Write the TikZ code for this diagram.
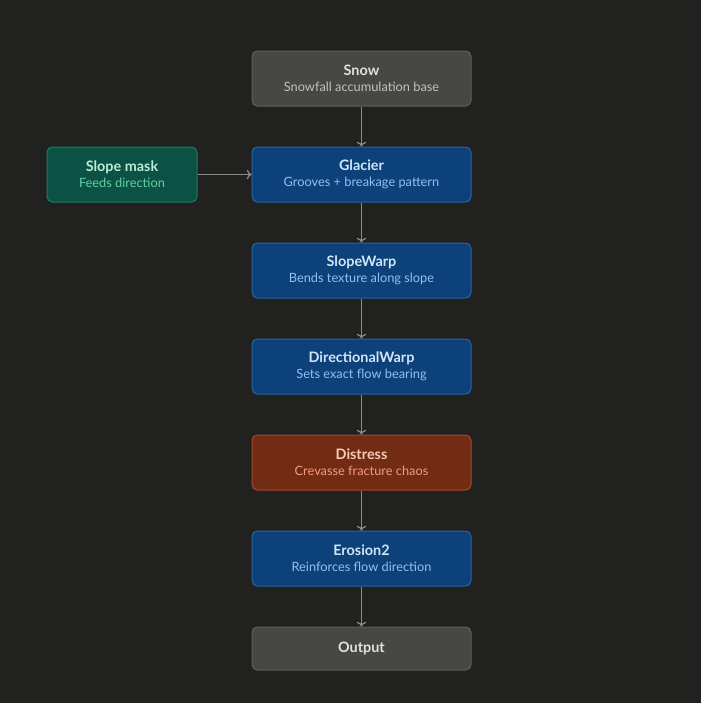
\documentclass[tikz,border=0pt]{standalone}
\usepackage{fontspec}
\setmainfont{Lato}
\usetikzlibrary{positioning,arrows.meta}

\definecolor{bgdark}{HTML}{212120}
\definecolor{grayfill}{HTML}{474743}
\definecolor{grayline}{HTML}{5E5E5A}
\definecolor{graytitle}{HTML}{E2E1DC}
\definecolor{graysub}{HTML}{C2C1BB}
\definecolor{bluefill}{HTML}{0C4179}
\definecolor{blueline}{HTML}{2B65A2}
\definecolor{bluetitle}{HTML}{D2E4F8}
\definecolor{bluesub}{HTML}{92C0F0}
\definecolor{greenfill}{HTML}{0B5244}
\definecolor{greenline}{HTML}{1E7A60}
\definecolor{greentitle}{HTML}{B8ECD6}
\definecolor{greensub}{HTML}{62D0A2}
\definecolor{redfill}{HTML}{722C14}
\definecolor{redline}{HTML}{A4492B}
\definecolor{redtitle}{HTML}{F6CAB6}
\definecolor{redsub}{HTML}{F19B79}
\definecolor{arrowgray}{HTML}{8C8C88}

\newcommand{\boxlabel}[3]{{\fontsize{10.8}{14.2}\selectfont\bfseries #1}\\{\fontsize{9.6}{14.2}\selectfont\color{#3}#2}}

\tikzset{
  stage/.style={rounded corners=4pt, line width=0.75pt, minimum width=164.25pt,
    minimum height=41.25pt, align=center, inner sep=0pt},
  graybox/.style={stage, fill=grayfill, draw=grayline, text=graytitle},
  bluebox/.style={stage, fill=bluefill, draw=blueline, text=bluetitle},
  greenbox/.style={stage, fill=greenfill, draw=greenline, text=greentitle, minimum width=112.5pt},
  redbox/.style={stage, fill=redfill, draw=redline, text=redtitle},
  flow/.style={-{To[length=3.5pt,width=7pt]}, draw=arrowgray, line width=0.95pt}
}

\begin{document}
\begin{tikzpicture}[x=0.75pt,y=-0.75pt]
\useasboundingbox (0,0) rectangle (700,703);
\fill[bgdark] (-10,-10) rectangle (710,713);
% stages
\path (361.5,78.5) node[graybox] (snow) {\boxlabel{Snow}{Snowfall accumulation base}{graysub}};
\path (361.5,174.5) node[bluebox] (glacier) {\boxlabel{Glacier}{Grooves + breakage pattern}{bluesub}};
\path (361.5,270.5) node[bluebox] (slopewarp) {\boxlabel{SlopeWarp}{Bends texture along slope}{bluesub}};
\path (361.5,366.5) node[bluebox] (dirwarp) {\boxlabel{DirectionalWarp}{Sets exact flow bearing}{bluesub}};
\path (361.5,462.5) node[redbox] (distress) {\boxlabel{Distress}{Crevasse fracture chaos}{redsub}};
\path (361.5,558.5) node[bluebox] (erosion) {\boxlabel{Erosion2}{Reinforces flow direction}{bluesub}};
\path (361.5,648.5) node[graybox, minimum height=32.25pt, font=\fontsize{10.8}{14.2}\selectfont\bfseries] (output) {Output};
% side input
\path (122,174.5) node[greenbox] (slopemask) {\boxlabel{Slope mask}{Feeds direction}{greensub}};
% connectors
\draw[flow] (snow) -- (glacier);
\draw[flow] (glacier) -- (slopewarp);
\draw[flow] (slopewarp) -- (dirwarp);
\draw[flow] (dirwarp) -- (distress);
\draw[flow] (distress) -- (erosion);
\draw[flow] (erosion) -- (output);
\draw[flow] (slopemask) -- (glacier);
\end{tikzpicture}
\end{document}
